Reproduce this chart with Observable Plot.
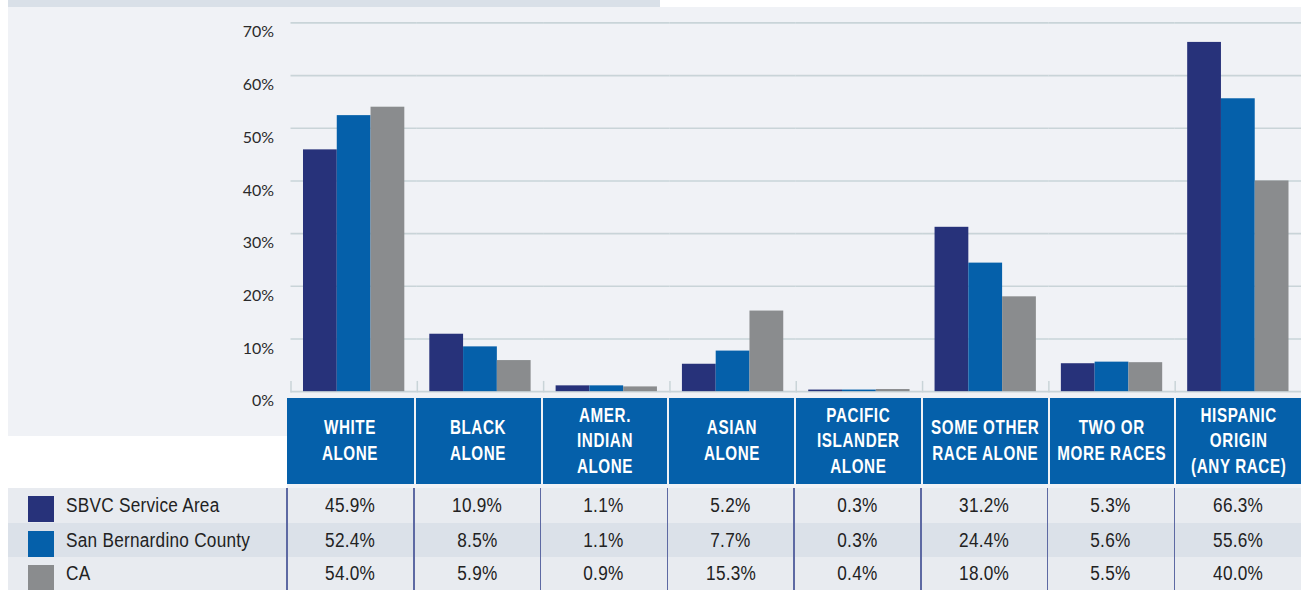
<!DOCTYPE html>
<html><head><meta charset="utf-8">
<script src="https://cdn.jsdelivr.net/npm/d3@7"></script>
<script src="https://cdn.jsdelivr.net/npm/@observablehq/plot@0.6"></script>
<style>
body{margin:0;background:#fff;}
#wrap{position:relative;width:1301px;height:590px;overflow:hidden;background:#fff;}
.abs{position:absolute;box-sizing:border-box;}
.hdr{background:#0560aa;color:#fff;font-family:"Liberation Sans",Arial,sans-serif;font-weight:bold;font-size:20px;line-height:25.5px;display:flex;align-items:center;justify-content:center;text-align:center;}
.hdr span{display:inline-block;transform:scaleX(0.76);transform-origin:50% 50%;white-space:nowrap;letter-spacing:0.8px;}
.cell{font-family:"Liberation Sans",Arial,sans-serif;font-size:20px;color:#222;display:flex;align-items:center;justify-content:center;}
.cell span{display:inline-block;transform:scaleX(0.86);transform-origin:50% 50%;white-space:nowrap;letter-spacing:0.3px;}
.lab{font-family:"Liberation Sans",Arial,sans-serif;font-size:20px;color:#222;display:flex;align-items:center;}
.lab span{display:inline-block;transform:scaleX(0.86);transform-origin:0 50%;white-space:nowrap;letter-spacing:0.3px;}
</style></head><body><div id="wrap"></div><script>
const categories = ["WHITE ALONE","BLACK ALONE","AMER. INDIAN ALONE","ASIAN ALONE","PACIFIC ISLANDER ALONE","SOME OTHER RACE ALONE","TWO OR MORE RACES","HISPANIC ORIGIN (ANY RACE)"];
const headerLines = [["WHITE","ALONE"],["BLACK","ALONE"],["AMER.","INDIAN","ALONE"],["ASIAN","ALONE"],["PACIFIC","ISLANDER","ALONE"],["SOME OTHER","RACE ALONE"],["TWO OR","MORE RACES"],["HISPANIC","ORIGIN","(ANY RACE)"]];
const series = ["SBVC Service Area","San Bernardino County","CA"];
const sbvc = [45.9,10.9,1.1,5.2,0.3,31.2,5.3,66.3];
const sbc  = [52.4,8.5,1.1,7.7,0.3,24.4,5.6,55.6];
const ca   = [54.0,5.9,0.9,15.3,0.4,18.0,5.5,40.0];
const colors = ["#27327a","#0560aa","#8a8c8e"];
const yTicks = [0,10,20,30,40,50,60,70];

const values = [sbvc, sbc, ca];
const data = categories.flatMap((c,i)=>series.map((s,j)=>({category:c, series:s, value:values[j][i]})));

const wrap = document.getElementById("wrap");
function box(x,y,w,h,bg,cls){const d=document.createElement("div");d.className="abs "+(cls||"");d.style.left=x+"px";d.style.top=y+"px";d.style.width=w+"px";d.style.height=h+"px";if(bg)d.style.background=bg;wrap.appendChild(d);return d;}

// background panels
box(8,0,652,7,"#d9e0e8");
box(8,7,1293,429,"#f0f2f6");
box(287,436,1014,52,"#f0f2f6");

const plot = Plot.plot({
  width: 1305.5, height: 398,
  marginLeft: 291.5, marginRight: 0, marginTop: 22.5, marginBottom: 5.5,
  style: {background:"transparent", fontFamily:"Lato, 'Open Sans', sans-serif", fontSize:"16px", color:"#2a2a2a", overflow:"visible"},
  fx: {domain: categories, padding: 0, axis: null, label: null, round: false},
  x: {domain: series, paddingInner: 0, paddingOuter: 0.37, axis: null, round: false},
  y: {domain: [0,70], axis: null},
  color: {domain: series, range: colors},
  marks: [
    Plot.gridY(yTicks, {stroke:"#c9d4d8", strokeOpacity:1, strokeWidth:1.6}),
    Plot.frame({anchor:"left", stroke:"#c9d4d8", strokeOpacity:1, strokeWidth:1.5, insetTop:360}),
    Plot.axisY(yTicks, {tickSize:0, tickPadding:17, dy:9.5, tickFormat:d=>d+"%", label:null}),
    Plot.barY(data, {fx:"category", x:"series", y:"value", fill:"series"})
  ]
});
plot.style.position="absolute"; plot.style.left="0px"; plot.style.top="0px";
wrap.appendChild(plot);

// header
const step = 1014/8;
headerLines.forEach((lines,i)=>{
  const x0 = 287 + i*step + (i?2:0);
  const x1 = 287 + (i+1)*step;
  const d = box(x0, 397.5, x1-x0, 86.5, null, "hdr");
  d.innerHTML = "<span>" + lines.join("<br>") + "</span>";
});

// table rows
const rowTops = [488, 523, 557];
const rowH = [35, 34, 33];
const rowBg = ["#e8ebf0","#dbe1e9","#e8ebf0"];
series.forEach((s,j)=>{
  box(8, rowTops[j], 1293, rowH[j], rowBg[j]);
  box(28, rowTops[j]+8, 26, 26, colors[j]);
  const l = box(66, rowTops[j], 220, rowH[j], null, "lab"); l.innerHTML = "<span>"+s+"</span>";
  categories.forEach((c,i)=>{
    const v = values[j][i];
    const d = box(287+i*step, rowTops[j], step, rowH[j], null, "cell");
    d.innerHTML = "<span>"+v.toFixed(1)+"%</span>";
  });
});
for(let i=0;i<8;i++){ box(287+i*step-0.75, 488, 1.5, 102, "#5d69a3"); }
</script></body></html>
